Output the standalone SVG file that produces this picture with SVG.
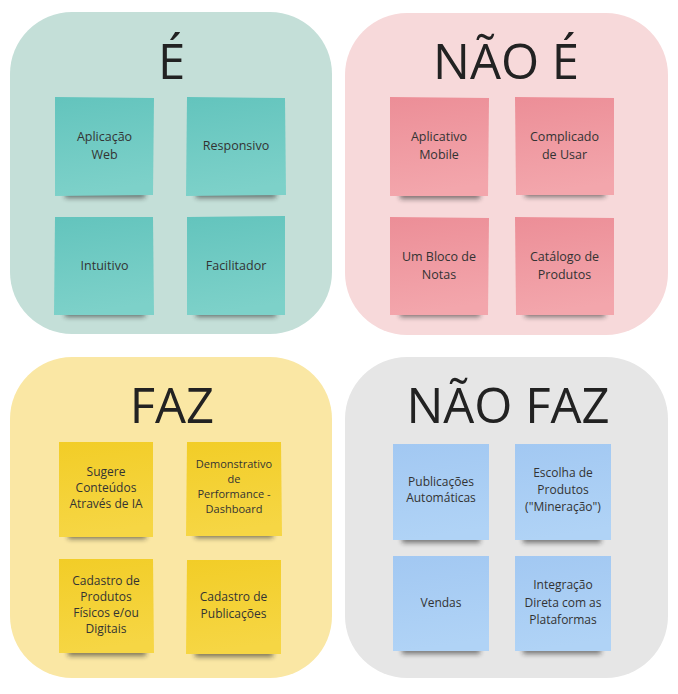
<svg xmlns="http://www.w3.org/2000/svg" width="678" height="694" viewBox="0 0 678 694">
<defs>
<style>
.title{font-family:"Open Sans","DejaVu Sans",sans-serif;font-size:49px;fill:#222;text-anchor:middle}
.t{font-family:"Open Sans","DejaVu Sans",sans-serif;fill:#333;text-anchor:middle}
.s125{font-size:12.5px}
.s12{font-size:12px}
.s11{font-size:11px}
.shadow{fill:#1e1e1e;opacity:.55;filter:url(#blur)}
</style>
<filter id="blur" x="-20%" y="-100%" width="140%" height="300%"><feGaussianBlur stdDeviation="2.6"/></filter>
<linearGradient id="gTeal" x1="0" y1="0" x2="0.15" y2="1"><stop offset="0" stop-color="#63c4bd"/><stop offset="1" stop-color="#7dd1c9"/></linearGradient>
<linearGradient id="gPink" x1="0" y1="0" x2="0.15" y2="1"><stop offset="0" stop-color="#ec8e97"/><stop offset="1" stop-color="#f3a6ac"/></linearGradient>
<linearGradient id="gYellow" x1="0" y1="0" x2="0.15" y2="1"><stop offset="0" stop-color="#f2cd27"/><stop offset="1" stop-color="#f6d644"/></linearGradient>
<linearGradient id="gBlue" x1="0" y1="0" x2="0.15" y2="1"><stop offset="0" stop-color="#a2c8f2"/><stop offset="1" stop-color="#b0d3f6"/></linearGradient>
</defs>

<!-- Panels -->
<g id="panel-e">
<rect x="10" y="12" width="322" height="322" rx="62" fill="#c4dfd8"/>
<text class="title" x="171.5" y="79">É</text>
</g>
<g id="panel-nao-e">
<rect x="345" y="13" width="323" height="322" rx="62" fill="#f7d9da"/>
<text class="title" x="506" y="78.5">NÃO É</text>
</g>
<g id="panel-faz">
<rect x="10" y="357" width="322" height="321" rx="62" fill="#fae7a4"/>
<text class="title" x="172" y="423">FAZ</text>
</g>
<g id="panel-nao-faz">
<rect x="345" y="357" width="323" height="321" rx="62" fill="#e6e6e6"/>
<text class="title" x="508" y="423">NÃO FAZ</text>
</g>

<!-- É notes -->
<g id="note-aplicacao-web">
<rect class="shadow" x="65" y="188" width="80" height="10"/>
<path d="M55,97 L154,98 L153,195 L55,196 Z" fill="url(#gTeal)"/>
<text class="t s125"><tspan x="104.5" y="141">Aplicação</tspan><tspan x="104.5" y="159">Web</tspan></text>
</g>
<g id="note-responsivo">
<rect class="shadow" x="196" y="188" width="80" height="10"/>
<path d="M187,97 L285,98 L286,195 L186,196 Z" fill="url(#gTeal)"/>
<text class="t s125" x="236" y="150">Responsivo</text>
</g>
<g id="note-intuitivo">
<rect class="shadow" x="65" y="307" width="80" height="10"/>
<path d="M55,217 L153,217 L154,315 L54,315 Z" fill="url(#gTeal)"/>
<text class="t s125" x="104.5" y="270">Intuitivo</text>
</g>
<g id="note-facilitador">
<rect class="shadow" x="196" y="307" width="80" height="10"/>
<path d="M187,217 L285,216 L285,315 L187,315 Z" fill="url(#gTeal)"/>
<text class="t s125" x="236" y="270">Facilitador</text>
</g>

<!-- NÃO É notes -->
<g id="note-aplicativo-mobile">
<rect class="shadow" x="400" y="189" width="80" height="10"/>
<path d="M390,97 L489,98 L488,196 L390,196 Z" fill="url(#gPink)"/>
<text class="t s125"><tspan x="439" y="141">Aplicativo</tspan><tspan x="439" y="159">Mobile</tspan></text>
</g>
<g id="note-complicado">
<rect class="shadow" x="525" y="187" width="80" height="10"/>
<path d="M515,97 L614,98 L614,195 L516,195 Z" fill="url(#gPink)"/>
<text class="t s125"><tspan x="564.5" y="141">Complicado</tspan><tspan x="564.5" y="159">de Usar</tspan></text>
</g>
<g id="note-bloco-notas">
<rect class="shadow" x="400" y="307" width="80" height="10"/>
<path d="M390,217 L489,218 L488,315 L390,315 Z" fill="url(#gPink)"/>
<text class="t s125"><tspan x="439" y="261">Um Bloco de</tspan><tspan x="439" y="279">Notas</tspan></text>
</g>
<g id="note-catalogo">
<rect class="shadow" x="525" y="307" width="80" height="10"/>
<path d="M515,217 L614,218 L614,315 L516,315 Z" fill="url(#gPink)"/>
<text class="t s125"><tspan x="564.5" y="261">Catálogo de</tspan><tspan x="564.5" y="279">Produtos</tspan></text>
</g>

<!-- FAZ notes -->
<g id="note-sugere">
<rect class="shadow" x="68" y="529" width="78" height="10"/>
<path d="M59,442 L153,442 L153,537 L59,537 Z" fill="url(#gYellow)"/>
<text class="t s12"><tspan x="106" y="476">Sugere</tspan><tspan x="106" y="492">Conteúdos</tspan><tspan x="106" y="508">Através de IA</tspan></text>
</g>
<g id="note-demonstrativo">
<rect class="shadow" x="195" y="528" width="78" height="10"/>
<path d="M187,442 L281,442 L282,536 L186,536 Z" fill="url(#gYellow)"/>
<text class="t s11"><tspan x="234" y="468">Demonstrativo</tspan><tspan x="234" y="483">de</tspan><tspan x="234" y="498">Performance -</tspan><tspan x="234" y="513">Dashboard</tspan></text>
</g>
<g id="note-cadastro-produtos">
<rect class="shadow" x="68" y="646" width="78" height="10"/>
<path d="M59,559 L153,559 L154,653 L59,653 Z" fill="url(#gYellow)"/>
<text class="t s12"><tspan x="106" y="585">Cadastro de</tspan><tspan x="106" y="601">Produtos</tspan><tspan x="106" y="617">Físicos e/ou</tspan><tspan x="106" y="633">Digitais</tspan></text>
</g>
<g id="note-cadastro-publicacoes">
<rect class="shadow" x="195" y="647" width="78" height="10"/>
<path d="M187,560 L281,560 L281,654 L186,654 Z" fill="url(#gYellow)"/>
<text class="t s12"><tspan x="233.5" y="601">Cadastro de</tspan><tspan x="233.5" y="617.5">Publicações</tspan></text>
</g>

<!-- NÃO FAZ notes -->
<g id="note-publicacoes-automaticas">
<rect class="shadow" x="402" y="533" width="78" height="10"/>
<path d="M393,444 L489,444 L489,540 L393,540 Z" fill="url(#gBlue)"/>
<text class="t s12"><tspan x="441" y="486">Publicações</tspan><tspan x="441" y="502">Automáticas</tspan></text>
</g>
<g id="note-escolha-produtos">
<rect class="shadow" x="523" y="533" width="78" height="10"/>
<path d="M515,444 L611,444 L611,540 L515,540 Z" fill="url(#gBlue)"/>
<text class="t s12"><tspan x="563" y="477">Escolha de</tspan><tspan x="563" y="494">Produtos</tspan><tspan x="563" y="511">("Mineração")</tspan></text>
</g>
<g id="note-vendas">
<rect class="shadow" x="402" y="644" width="78" height="10"/>
<path d="M393,556 L489,556 L489,651 L393,651 Z" fill="url(#gBlue)"/>
<text class="t s12" x="441" y="607">Vendas</text>
</g>
<g id="note-integracao">
<rect class="shadow" x="523" y="644" width="78" height="10"/>
<path d="M515,556 L611,556 L611,651 L515,651 Z" fill="url(#gBlue)"/>
<text class="t s12"><tspan x="563" y="589">Integração</tspan><tspan x="563" y="606.5">Direta com as</tspan><tspan x="563" y="624">Plataformas</tspan></text>
</g>
</svg>
